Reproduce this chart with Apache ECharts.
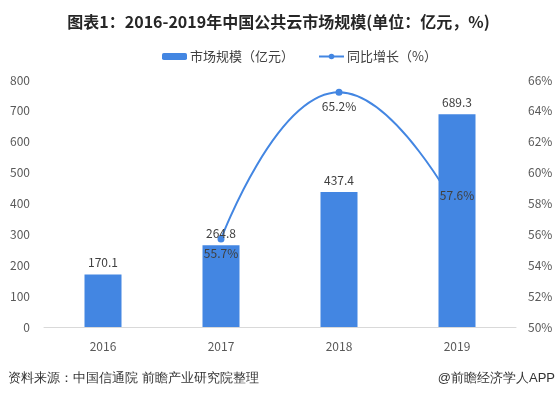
<!doctype html>
<html>
<head>
  <meta charset="UTF-8" />
  <title>中国公共云市场规模</title>
  <script src="https://cdn.jsdelivr.net/npm/echarts@6/dist/echarts.min.js"></script>
  <style>
    html, body { margin: 0; padding: 0; background: #ffffff; }
    #chart { width: 557px; height: 396px; }
  </style>
</head>
<body>
  <div id="chart"></div>
  <script>
    // data
    const years = ["2016", "2017", "2018", "2019"];
    const marketSize = [170.1, 264.8, 437.4, 689.3]; // 亿元
    const growthRate = [null, 55.7, 65.2, 57.6]; // %
    const leftTicks = [0, 800, 100];
    const rightTicks = [50, 66, 2];

    const blue = "#4386e2";
    const font = "'Noto Sans CJK SC', 'Microsoft YaHei', sans-serif";

    var chart = echarts.init(document.getElementById("chart"));

    // line labels sit below except the last one
    const labelPos = (i) => (i === years.length - 1 ? "top" : "bottom");

    var option = {
      textStyle: { fontFamily: font },
      title: {
        text: "图表1：2016-2019年中国公共云市场规模(单位：亿元，%)",
        left: "center",
        top: 9,
        textStyle: { fontSize: 16, fontWeight: "bold", color: "#262626", fontFamily: font },
      },
      legend: {
        data: ["市场规模（亿元）", "同比增长（%）"],
        top: 45,
        left: 157,
        itemWidth: 25,
        itemHeight: 7,
        itemGap: 24,
        textStyle: { fontSize: 13, color: "#404040", padding: [0, 0, 0, -2] },
      },
      grid: {
        left: 44,
        right: 41,
        top: 80,
        bottom: 69,
        containLabel: false,
        outerBoundsMode: "none",
      },
      xAxis: {
        type: "category",
        data: years,
        axisLine: { lineStyle: { color: "#d9d9d9" } },
        axisTick: { show: false },
        axisLabel: { color: "#595959", fontSize: 12, margin: 13 },
      },
      yAxis: [
        {
          type: "value",
          min: leftTicks[0],
          max: leftTicks[1],
          interval: leftTicks[2],
          splitLine: { show: false },
          axisLine: { show: false },
          axisTick: { show: false },
          axisLabel: { color: "#595959", fontSize: 12, margin: 14 },
        },
        {
          type: "value",
          min: rightTicks[0],
          max: rightTicks[1],
          interval: rightTicks[2],
          splitLine: { show: false },
          axisLine: { show: false },
          axisTick: { show: false },
          axisLabel: { color: "#595959", fontSize: 12, margin: 12, formatter: "{value}%" },
        },
      ],
      series: [
        {
          name: "同比增长（%）",
          type: "line",
          yAxisIndex: 1,
          smooth: true,
          z: 1,
          data: growthRate,
          symbol: "circle",
          symbolSize: 7,
          lineStyle: { color: blue, width: 2 },
          itemStyle: { color: blue },
        },
        {
          name: "市场规模（亿元）",
          type: "bar",
          z: 2,
          data: marketSize,
          barWidth: 37,
          itemStyle: { color: blue },
          label: {
            show: true,
            position: "top",
            color: "#404040",
            fontSize: 12,
            distance: 6,
          },
        },
        {
          // invisible copy of the line, only to keep its labels above the bars
          name: "growth-labels",
          type: "line",
          yAxisIndex: 1,
          z: 3,
          silent: true,
          symbol: "circle",
          symbolSize: 7,
          lineStyle: { width: 0, color: "rgba(0,0,0,0)" },
          itemStyle: { color: "rgba(0,0,0,0)" },
          emphasis: { disabled: true },
          data: growthRate.map((v, i) =>
            v == null ? null : { value: v, label: { position: labelPos(i) } }
          ),
          label: {
            show: true,
            color: "#404040",
            fontSize: 12,
            distance: 5,
            formatter: "{c}%",
          },
        },
      ],
      graphic: [
        {
          type: "text",
          left: 8,
          top: 372,
          style: { text: "资料来源：中国信通院 前瞻产业研究院整理", fontSize: 13, fill: "#333333", font: "13px " + font },
        },
        {
          type: "text",
          right: 2,
          top: 372,
          style: { text: "@前瞻经济学人APP", fontSize: 13, fill: "#333333", font: "13px " + font },
        },
      ],
    };

    chart.setOption(option);
    window.addEventListener("resize", () => chart.resize());
  </script>
</body>
</html>
